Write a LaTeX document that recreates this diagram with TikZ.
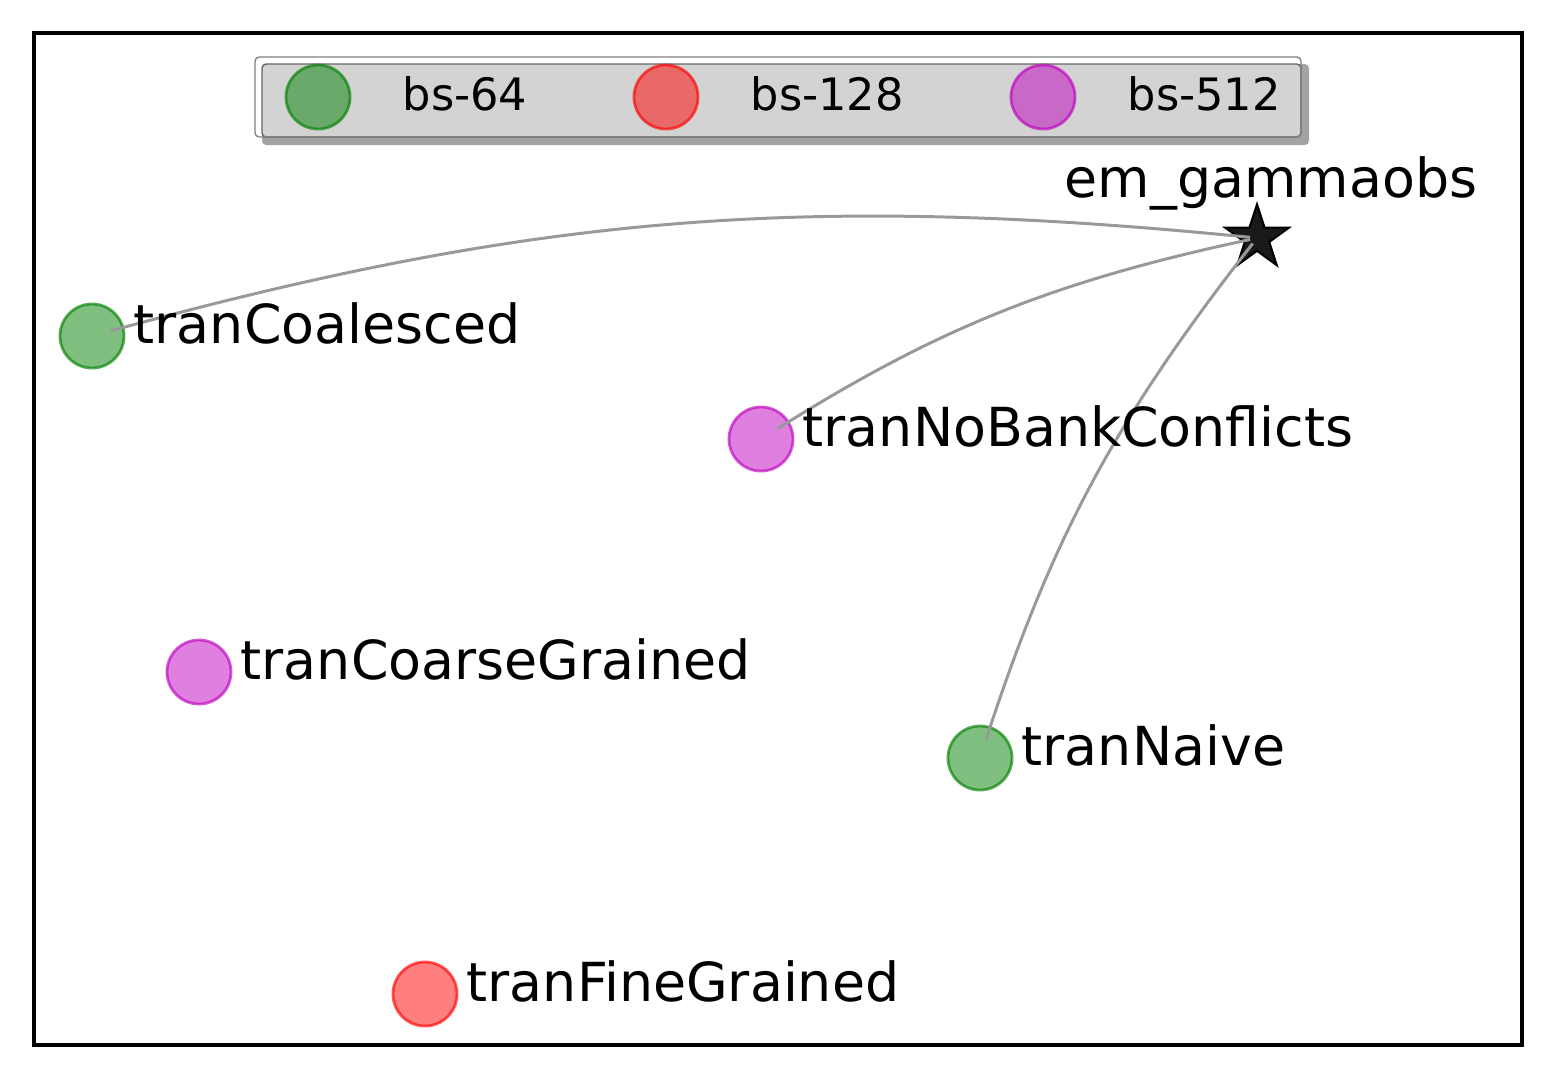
\documentclass[tikz,border=0pt]{standalone}
\usepackage{fontspec}
\setmainfont{DejaVu Sans}
\usepackage{xcolor}
\usetikzlibrary{shapes.geometric, positioning}
\definecolor{mplgreen}{HTML}{008000}
\definecolor{mplred}{HTML}{FF0000}
\definecolor{mplmag}{HTML}{BF00BF}
\definecolor{legfill}{HTML}{D3D3D3}
\definecolor{legshadow}{HTML}{A3A3A3}

\begin{document}
\begin{tikzpicture}[x=0.01cm, y=-0.01cm,
      dot/.style={circle, inner sep=0pt, minimum size=0.64cm,
                  line width=0.8pt, fill opacity=0.5, draw opacity=0.65},
      bs64/.style={dot, fill=mplgreen, draw=mplgreen},
      bs128/.style={dot, fill=mplred, draw=mplred},
      bs512/.style={dot, fill=mplmag, draw=mplmag},
      lbl/.style={anchor=base west, inner sep=0pt, font=\fontsize{15.3}{18}\selectfont},
      legtxt/.style={anchor=base west, inner sep=0pt, font=\fontsize{12.7}{15}\selectfont},
      edge/.style={draw=black!40, line width=0.85pt, shorten <=5.4pt, shorten >=2pt}
    ]
    \useasboundingbox (0,0) rectangle (1555,1078);

    % Axes frame
    \draw[line width=1.3pt] (34,33) rectangle (1522,1045);

    % Legend
    \fill[legshadow, rounded corners=1.2pt] (262,64) rectangle (1309,145);
    \draw[black!60, fill=legfill, rounded corners=1.2pt, line width=0.4pt] (262,64) rectangle (1301,137);
    \draw[black!50, rounded corners=1.2pt, line width=0.4pt] (255,57) rectangle (1301,137);
    \node[bs64]  (k64)  at (318,97)  {};
    \node[legtxt] (t64)  at (402,110) {bs-64};
    \node[bs128] (k128) at (666,97)  {};
    \node[legtxt] (t128) at (750,110) {bs-128};
    \node[bs512] (k512) at (1043,97) {};
    \node[legtxt] (t512) at (1127,110) {bs-512};

    % Points
    \node[bs64]  (coal)  at (92,336)  {};
    \node[bs512] (nobank) at (761,439) {};
    \node[bs512] (coarse) at (199,672) {};
    \node[bs64]  (naive) at (980,758) {};
    \node[bs128] (fine)  at (425,994) {};
    \node[star, star points=5, star point ratio=2.618, minimum size=0.67cm,
          inner sep=0pt, fill=black!90, draw=black, line width=0.6pt] (gamma) at (1257,238) {};

    % Edges to the target
    \draw[edge] (coal.center)   to[bend left=10.5] (gamma.center);
    \draw[edge] (nobank.center) to[bend left=10]   (gamma.center);
    \draw[edge] (naive.center)  to[bend left=10]   (gamma.center);

    % Labels
    \node[lbl] (lcoal)   at (133,343) {tranCoalesced};
    \node[lbl] (lnobank) at (802,446) {tranNoBankConflicts};
    \node[lbl] (lcoarse) at (240,679) {tranCoarseGrained};
    \node[lbl] (lnaive)  at (1021,765) {tranNaive};
    \node[lbl] (lfine)   at (466,1001) {tranFineGrained};
    \node[anchor=base, inner sep=0pt, font=\fontsize{15.3}{18}\selectfont] (lgamma) at (1271,197) {em\_gammaobs};

  \end{tikzpicture}
\end{document}
